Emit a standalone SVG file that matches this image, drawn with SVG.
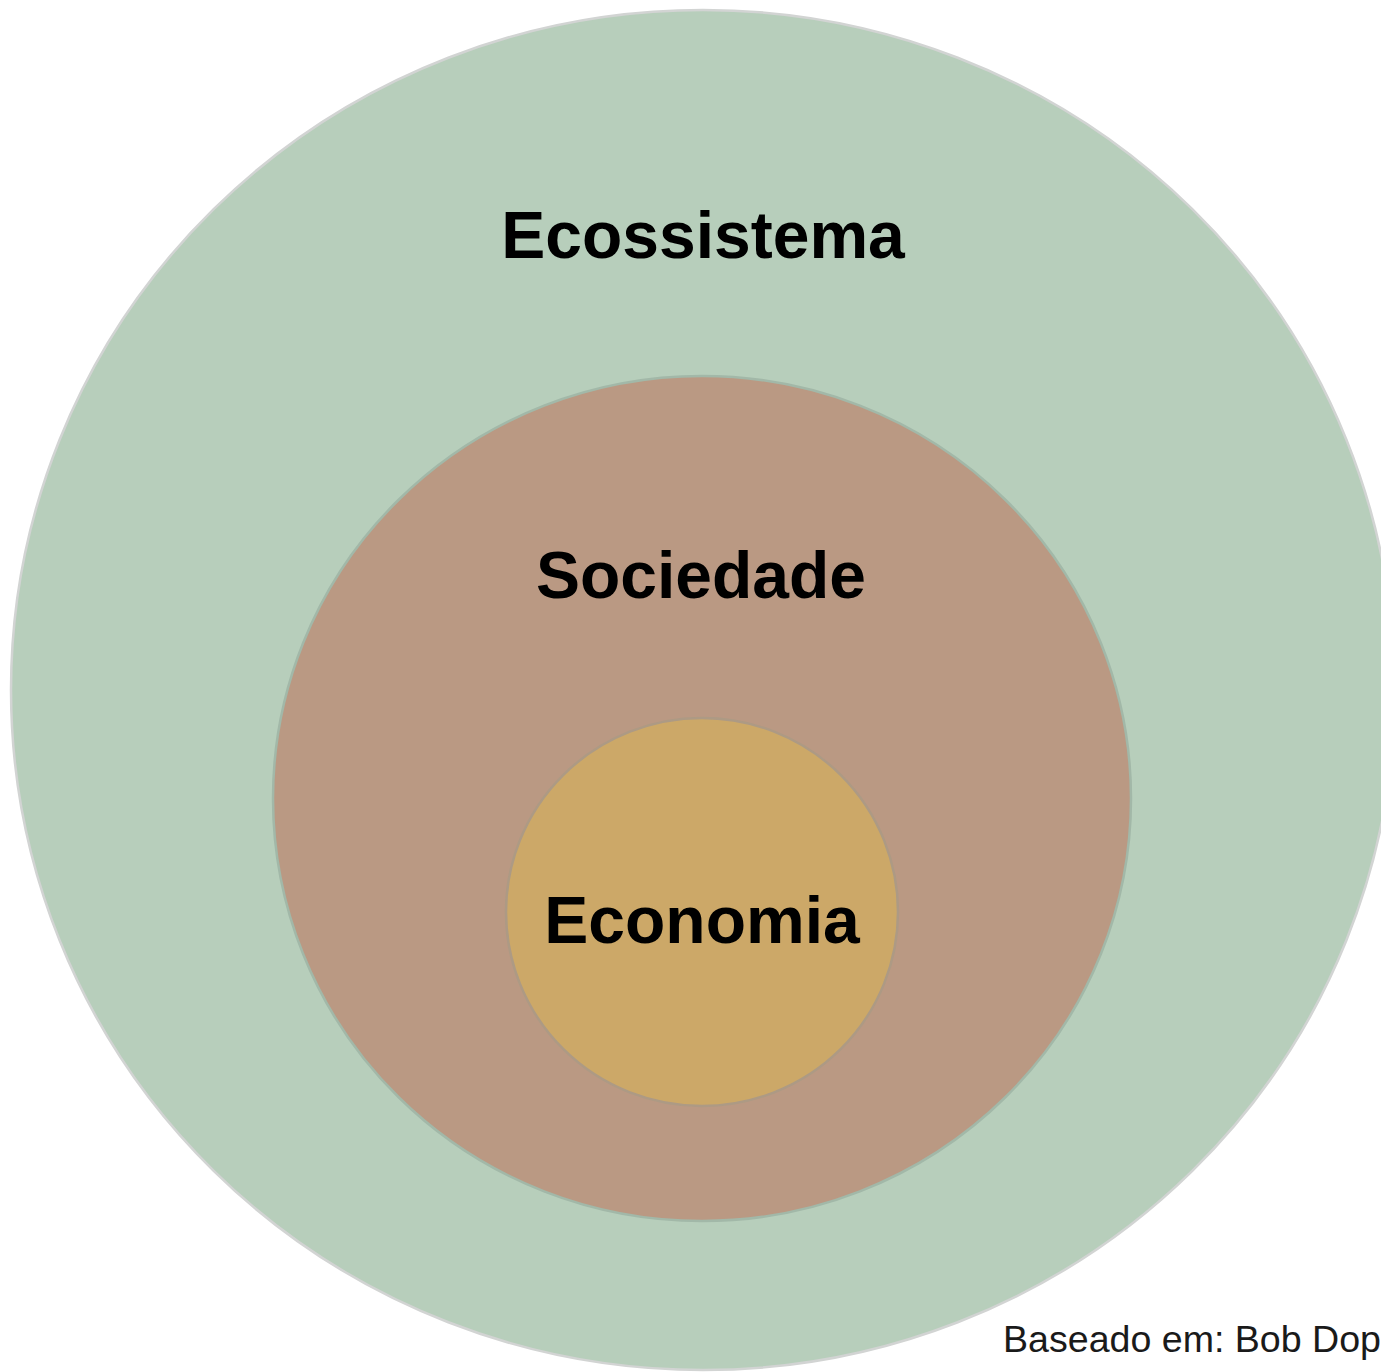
<svg xmlns="http://www.w3.org/2000/svg" width="1381" height="1372" viewBox="0 0 1381 1372">
<style>
.lbl{font-family:"Liberation Sans",Arial,Helvetica,sans-serif;font-weight:bold;font-size:66px;fill:#000;text-anchor:middle}
.note{font-family:"Liberation Sans",Arial,Helvetica,sans-serif;font-size:36px;fill:#1a1a1a}
</style>
<rect width="1381" height="1372" fill="#fff"/>
<g id="ecossistema">
<ellipse cx="703" cy="690" rx="692" ry="680" fill="#b7cebb" stroke="#d2d4d3" stroke-width="2.5"/>
<text class="lbl" x="703" y="258">Ecossistema</text>
</g>
<g id="sociedade">
<ellipse cx="702" cy="798.5" rx="429" ry="422.5" fill="#ba9983" stroke="#a2b8a8" stroke-width="2.5"/>
<text class="lbl" x="701" y="598">Sociedade</text>
</g>
<g id="economia">
<ellipse cx="702" cy="912" rx="196" ry="194" fill="#cca868" stroke="#ad9a84" stroke-width="2.5"/>
<text class="lbl" x="702" y="943">Economia</text>
</g>
<g id="connectors"></g>
<text class="note" x="1003" y="1352" textLength="378" lengthAdjust="spacingAndGlyphs">Baseado em: Bob Dop</text>
</svg>
